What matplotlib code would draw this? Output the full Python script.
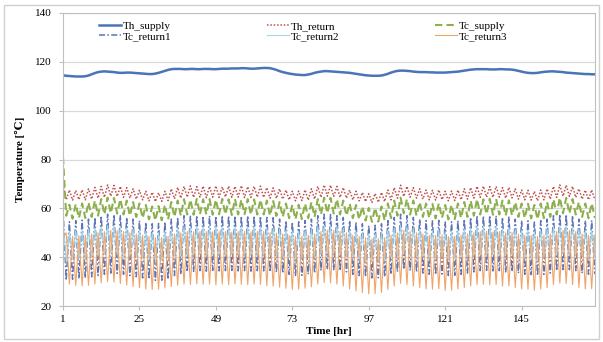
import numpy as np
import matplotlib
matplotlib.use('Agg')
import matplotlib.pyplot as plt
from matplotlib.patches import Rectangle

# hourly time axis
hours = np.arange(1, 169)
xticks = [1, 25, 49, 73, 97, 121, 145]

# Th_supply, one value per hour
th_supply = [114.5,
             114.3, 114.2, 114.1, 114.0, 114.0, 114.0, 114.1,
             114.4, 114.9, 115.4, 115.8, 116.0, 116.1,
             116.0, 115.9, 115.8, 115.6, 115.5, 115.5,
             115.6, 115.6, 115.5, 115.4, 115.3, 115.2, 115.1, 115.0,
             115.0, 115.2, 115.5, 115.9, 116.3, 116.7, 117.0, 117.1,
             117.1, 117.1, 117.0, 117.0, 117.1, 117.1, 117.0, 117.0, 117.1, 117.1,
             117.1, 117.0, 117.0, 117.1, 117.2, 117.2, 117.2, 117.3, 117.3, 117.3,
             117.4, 117.4, 117.3, 117.2, 117.2, 117.3, 117.4, 117.5, 117.5, 117.4,
             117.1, 116.7, 116.2, 115.8, 115.5, 115.2, 115.0, 114.8, 114.7, 114.6,
             114.6, 114.8, 115.1, 115.5, 115.8, 116.0,
             116.2, 116.2, 116.1, 116.0, 115.9, 115.8, 115.7, 115.6,
             115.5, 115.3, 115.1, 114.9, 114.7, 114.5, 114.4, 114.3, 114.3, 114.3, 114.4, 114.7,
             115.1, 115.6, 116.0, 116.3, 116.4, 116.4, 116.3, 116.2,
             116.0, 115.9, 115.8, 115.8, 115.8, 115.7, 115.7, 115.6,
             115.6, 115.6, 115.6, 115.7, 115.8, 115.9, 116.0, 116.2,
             116.4, 116.6, 116.8, 116.9, 117.0, 117.0, 117.0, 117.0, 116.9,
             116.9, 116.9, 117.0, 117.0, 116.9, 116.9, 116.8, 116.6, 116.3,
             116.0, 115.7, 115.5, 115.4, 115.4, 115.5, 115.7, 115.9,
             116.0, 116.1, 116.1, 116.0, 115.9, 115.8, 115.6, 115.5,
             115.4, 115.3, 115.2, 115.1, 115.0, 115.0, 114.9, 114.9]

# zigzag series: value at odd hours (1,3,5,...) and at even hours (2,4,6,...)
th_return_odd = [70.0, 67.5, 67.3, 67.6, 68.0,
                 68.6, 69.0, 69.6, 69.4, 69.0,
                 68.5, 68.0, 67.4, 67.0, 66.6, 66.4, 67.0,
                 68.0, 68.6, 69.0, 69.2, 68.9, 69.1, 69.0, 69.2, 68.8, 69.1, 69.0, 69.3, 68.9, 69.0, 69.1, 68.5, 68.4, 68.0,
                 67.5, 67.0, 67.1, 67.6, 68.0,
                 69.0, 69.6, 69.5, 69.0, 68.5,
                 67.5, 67.0, 66.5, 66.0, 66.1, 66.5, 67.5,
                 68.5, 69.5, 69.0, 68.5,
                 68.0, 67.5, 67.4, 67.6, 67.0, 67.1, 67.5, 68.0,
                 68.5, 69.0, 69.1, 68.9, 69.0, 68.5, 68.6, 68.0, 67.5,
                 67.4, 67.0, 67.5, 68.0,
                 69.0, 69.6, 69.5, 69.0,
                 68.0, 67.5, 67.6]
th_return_even = [63.5, 63.4, 63.6, 63.5, 63.8,
                  64.2, 64.5, 65.0, 64.9, 64.5,
                  64.2, 63.8, 63.5, 63.1, 62.8, 62.9, 63.2,
                  63.9, 64.2, 64.6, 64.5, 64.6, 64.4, 64.6, 64.5, 64.7, 64.5, 64.6, 64.4, 64.5, 64.6, 64.5, 64.2, 64.1, 63.8,
                  63.5, 63.1, 63.2, 63.4, 63.8,
                  64.5, 65.0, 64.9, 64.5, 64.2,
                  63.5, 63.1, 62.8, 62.4, 62.5, 62.8, 63.5,
                  64.2, 64.9, 64.6, 64.2,
                  63.8, 63.5, 63.4, 63.6, 63.1, 63.2, 63.5, 63.8,
                  64.2, 64.5, 64.6, 64.5, 64.6, 64.2, 64.3, 63.8, 63.5,
                  63.4, 63.1, 63.5, 63.8,
                  64.5, 65.0, 64.9, 64.5,
                  63.8, 63.5, 63.4]

tc_supply_odd = [81.0, 61.5, 61.8, 62.0, 62.5,
                 63.2, 63.8, 64.4, 64.3, 63.8,
                 63.2, 62.6, 62.0, 61.4, 60.8, 60.9, 61.4,
                 62.6, 63.2, 63.8, 63.6, 63.9, 63.7, 63.8, 63.6, 63.9, 63.7, 63.8, 63.6, 63.8, 63.7, 63.6, 63.2, 63.0, 62.6,
                 62.0, 61.4, 61.5, 62.0, 62.6,
                 63.8, 64.4, 64.3, 63.8, 63.2,
                 62.0, 61.4, 60.8, 60.2, 60.3, 60.8, 62.0,
                 63.2, 64.4, 63.8, 63.2,
                 62.6, 62.0, 61.9, 62.1, 61.4, 61.5, 62.0, 62.6,
                 63.2, 63.8, 63.7, 63.9, 63.8, 63.2, 63.3, 62.6, 62.0,
                 61.9, 61.4, 62.0, 62.6,
                 63.8, 64.4, 64.3, 63.8,
                 62.6, 62.0, 62.1]
tc_supply_even = [57.0, 55.8, 56.0, 56.1, 56.5,
                  57.0, 57.5, 58.0, 57.9, 57.5,
                  57.0, 56.5, 56.0, 55.5, 55.0, 55.1, 55.5,
                  56.5, 57.0, 57.5, 57.4, 57.6, 57.5, 57.4, 57.6, 57.5, 57.3, 57.5, 57.6, 57.4, 57.5, 57.5, 57.0, 56.9, 56.5,
                  56.0, 55.5, 55.6, 56.0, 56.5,
                  57.5, 58.0, 57.9, 57.5, 57.0,
                  56.0, 55.5, 55.0, 54.5, 54.6, 55.0, 56.0,
                  57.0, 58.0, 57.5, 57.0,
                  56.5, 56.0, 55.9, 56.1, 55.5, 55.6, 56.0, 56.5,
                  57.0, 57.5, 57.6, 57.4, 57.5, 57.0, 57.1, 56.5, 56.0,
                  55.9, 55.5, 56.0, 56.5,
                  57.5, 58.0, 57.9, 57.5,
                  56.5, 56.0, 56.1]

tc_return1_odd = [60.0, 54.5, 55.0, 55.2, 55.6,
                  56.3, 57.0, 57.6, 57.5, 57.0,
                  56.3, 55.6, 55.0, 54.3, 53.7, 53.8, 54.4,
                  55.6, 56.3, 57.0, 56.8, 57.1, 56.9, 57.0, 56.8, 57.1, 56.9, 57.0, 56.8, 57.0, 56.9, 56.8, 56.3, 56.2, 55.6,
                  55.0, 54.4, 54.5, 55.0, 55.6,
                  57.0, 57.6, 57.5, 57.0, 56.3,
                  55.0, 54.4, 53.7, 53.0, 53.1, 53.7, 55.0,
                  56.3, 57.6, 57.0, 56.3,
                  55.6, 55.0, 54.9, 55.1, 54.4, 54.5, 55.0, 55.6,
                  56.3, 57.0, 56.9, 57.1, 57.0, 56.3, 56.4, 55.6, 55.0,
                  54.9, 54.4, 55.0, 55.6,
                  57.0, 57.6, 57.5, 57.0,
                  55.6, 55.0, 55.1]
tc_return1_even = [30.5, 31.0, 31.2, 31.5, 32.0,
                   32.5, 33.0, 33.5, 33.4, 33.0,
                   32.5, 32.0, 31.5, 31.0, 30.5, 30.6, 31.0,
                   32.5, 33.0, 34.0, 34.2, 34.5, 34.3, 34.6, 34.4, 34.5, 34.6, 34.4, 34.5, 34.3, 34.5, 34.4, 34.0, 33.8, 33.5,
                   33.0, 32.5, 32.6, 33.0, 33.5,
                   34.5, 35.0, 34.9, 34.5, 34.0,
                   33.0, 32.5, 32.0, 31.5, 31.6, 32.0, 33.0,
                   34.0, 35.0, 34.5, 34.0,
                   33.5, 33.0, 32.9, 33.1, 32.5, 32.6, 33.0, 33.5,
                   34.0, 34.5, 34.6, 34.4, 34.5, 34.0, 34.1, 33.5, 33.0,
                   32.9, 32.5, 33.0, 33.5,
                   34.5, 35.0, 34.9, 34.5,
                   33.5, 33.0, 33.1]

tc_return2_odd = [55.0, 50.5, 51.0, 51.1, 51.5,
                  52.0, 52.5, 53.0, 52.9, 52.5,
                  52.0, 51.5, 51.0, 50.5, 50.0, 50.1, 50.5,
                  51.5, 52.0, 52.5, 52.4, 52.6, 52.5, 52.4, 52.6, 52.5, 52.3, 52.5, 52.6, 52.4, 52.5, 52.5, 52.0, 51.9, 51.5,
                  51.0, 50.5, 50.6, 51.0, 51.5,
                  52.5, 53.0, 52.9, 52.5, 52.0,
                  51.0, 50.5, 50.0, 49.5, 49.6, 50.0, 51.0,
                  52.0, 53.0, 52.5, 52.0,
                  51.5, 51.0, 50.9, 51.1, 50.5, 50.6, 51.0, 51.5,
                  52.0, 52.5, 52.6, 52.4, 52.5, 52.0, 52.1, 51.5, 51.0,
                  50.9, 50.5, 51.0, 51.5,
                  52.5, 53.0, 52.9, 52.5,
                  51.5, 51.0, 51.1]
tc_return2_even = [38.0, 39.5, 40.0, 40.1, 40.4,
                   40.8, 41.2, 41.6, 41.5, 41.2,
                   40.8, 40.4, 40.0, 39.6, 39.2, 39.3, 39.6,
                   40.4, 40.8, 41.2, 41.1, 41.3, 41.2, 41.1, 41.3, 41.2, 41.0, 41.2, 41.3, 41.1, 41.2, 41.2, 40.8, 40.7, 40.4,
                   40.0, 39.6, 39.7, 40.0, 40.4,
                   41.2, 41.6, 41.5, 41.2, 40.8,
                   40.0, 39.6, 39.2, 38.8, 38.9, 39.2, 40.0,
                   40.8, 41.6, 41.2, 40.8,
                   40.4, 40.0, 39.9, 40.1, 39.6, 39.7, 40.0, 40.4,
                   40.8, 41.2, 41.3, 41.1, 41.2, 40.8, 40.9, 40.4, 40.0,
                   39.9, 39.6, 40.0, 40.4,
                   41.2, 41.6, 41.5, 41.2,
                   40.4, 40.0, 40.1]

tc_return3_odd = [48.0, 29.0, 28.5, 28.3, 28.5,
                  29.0, 29.5, 30.0, 29.8, 29.2,
                  28.6, 28.0, 27.5, 27.0, 26.8, 26.9, 27.4,
                  28.0, 28.5, 29.0, 28.8, 29.1, 28.9, 29.0, 28.7, 29.0, 28.8, 29.1, 28.9, 28.8, 29.0, 28.9, 28.4, 28.2, 27.8,
                  27.3, 26.8, 26.9, 27.3, 27.9,
                  29.0, 29.6, 29.5, 29.0, 28.2,
                  27.0, 26.2, 25.5, 25.0, 25.1, 25.6, 26.8,
                  28.2, 29.3, 28.8, 28.2,
                  27.6, 27.0, 26.9, 27.1, 26.4, 26.5, 27.0, 27.6,
                  28.2, 28.8, 28.9, 28.7, 28.8, 28.2, 28.3, 27.6, 27.0,
                  26.9, 26.4, 27.0, 27.6,
                  28.8, 29.4, 29.3, 28.8,
                  27.6, 27.0, 27.1]
tc_return3_even = [50.0, 48.5, 48.8, 49.0, 49.5,
                   50.0, 50.5, 51.0, 50.9, 50.5,
                   50.0, 49.5, 49.0, 48.5, 48.0, 48.1, 48.5,
                   49.5, 50.0, 50.5, 50.4, 50.6, 50.5, 50.4, 50.6, 50.5, 50.3, 50.5, 50.6, 50.4, 50.5, 50.5, 50.0, 49.9, 49.5,
                   49.0, 48.5, 48.6, 49.0, 49.5,
                   50.5, 51.0, 50.9, 50.5, 50.0,
                   49.0, 48.5, 48.0, 47.5, 47.6, 48.0, 49.0,
                   50.0, 51.0, 50.5, 50.0,
                   49.5, 49.0, 48.9, 49.1, 48.5, 48.6, 49.0, 49.5,
                   50.0, 50.5, 50.6, 50.4, 50.5, 50.0, 50.1, 49.5, 49.0,
                   48.9, 48.5, 49.0, 49.5,
                   50.5, 51.0, 50.9, 50.5,
                   49.5, 49.0, 49.1]


def hourly(odd, even):
    # put odd-hour and even-hour readings back in time order
    return np.column_stack([odd, even]).ravel()


th_return = hourly(th_return_odd, th_return_even)
tc_supply = hourly(tc_supply_odd, tc_supply_even)
tc_return1 = hourly(tc_return1_odd, tc_return1_even)
tc_return2 = hourly(tc_return2_odd, tc_return2_even)
tc_return3 = hourly(tc_return3_odd, tc_return3_even)

serif = ['Liberation Serif', 'DejaVu Serif']
plt.rcParams['font.family'] = serif

fig = plt.figure(figsize=(6.03, 3.42), dpi=100)
fig.patches.append(Rectangle((0.006, 0.008), 0.988, 0.978, transform=fig.transFigure,
                             fill=False, edgecolor='#D0D0D0', linewidth=1.0))
ax = fig.add_axes([0.1045, 0.105, 0.882, 0.857])

l1, = ax.plot(hours, th_supply, color='#4A74B8', lw=1.8, label='Th_supply')
l2, = ax.plot(hours, th_return, color='#C0504D', lw=1.1, ls=(0, (1, 1.2)), label='Th_return')
l3, = ax.plot(hours, tc_supply, color='#8DB04E', lw=1.5, ls=(0, (3.5, 2)), label='Tc_supply')
l4, = ax.plot(hours, tc_return1, color='#5D74B6', lw=1.1, ls=(0, (4, 1.5, 1, 1.5)), label='Tc_return1')
l5, = ax.plot(hours, tc_return2, color='#A6D6E6', lw=0.8, label='Tc_return2')
l6, = ax.plot(hours, tc_return3, color='#F0A468', lw=0.8, label='Tc_return3')

ax.set_xlim(1, 168)
ax.set_ylim(20, 140)
ax.set_yticks(range(20, 141, 20))
ax.set_xticks(xticks)
ax.grid(axis='y', color='#D9D9D9', lw=0.9)
ax.set_axisbelow(True)
for s in ax.spines.values():
    s.set_color('#BFBFBF')
ax.tick_params(axis='both', colors='#BFBFBF', labelcolor='black', labelsize=8, length=3)
ax.tick_params(axis='y', pad=5)

ax.set_xlabel('Time [hr]', fontsize=8, fontweight='bold', labelpad=2)
ax.set_ylabel('Temperature [℃]', fontsize=8, fontweight='bold', labelpad=7)

handles = [l1, l4, l2, l5, l3, l6]
ax.legend(handles, [h.get_label() for h in handles], ncol=3, loc='upper left',
          bbox_to_anchor=(0.055, 0.995), frameon=False, fontsize=8,
          handlelength=2.0, handletextpad=0.15, columnspacing=8.6,
          labelspacing=0.05, borderpad=0.1)

plt.savefig('out.png', dpi=100)
